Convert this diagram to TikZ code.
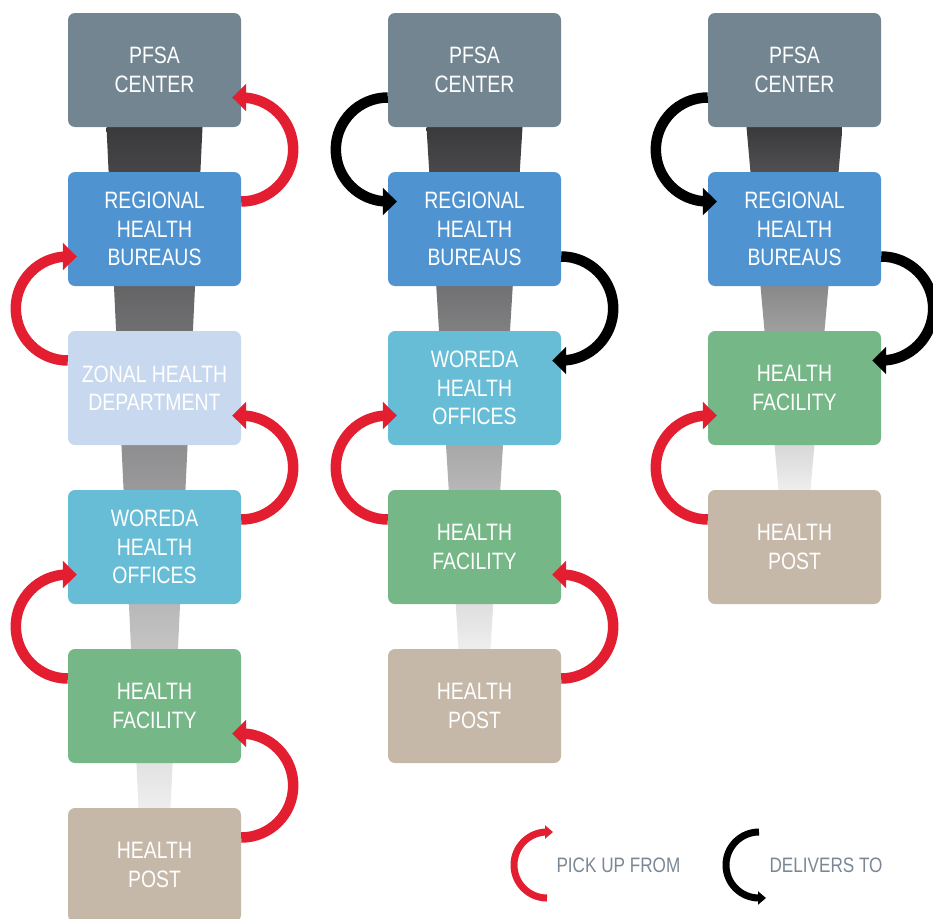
\documentclass[tikz,border=0pt]{standalone}
\usepackage{fontspec}
\setmainfont{Liberation Sans}[FakeStretch=0.82]
\usepackage{tikz}
\usetikzlibrary{arrows.meta,calc,backgrounds}
\usepackage{xcolor}
\definecolor{pfsa}{HTML}{748592}
\definecolor{rhb}{HTML}{4F93D0}
\definecolor{zonal}{HTML}{C8D8EE}
\definecolor{woreda}{HTML}{68BDD6}
\definecolor{hf}{HTML}{76B788}
\definecolor{hp}{HTML}{C5B8A9}
\definecolor{pickred}{HTML}{E31E30}
\definecolor{legendgray}{HTML}{7A8794}
\definecolor{trapdark}{HTML}{3A3A3C}
\definecolor{traplight}{HTML}{EEEEEF}

\begin{document}
\begin{tikzpicture}[x=1pt, y=1pt,
  level/.style={fill=#1, rounded corners=7pt, minimum width=173pt,
                minimum height=114pt, inner sep=0pt, text=white, align=center,
                font=\fontsize{23.7}{28.5}\selectfont},
  pickup/.style={draw=pickred, line width=10.5pt,
                 -{Triangle[length=14pt,width=27pt]}},
  delivers/.style={draw=black, line width=10.5pt,
                   -{Triangle[length=14pt,width=27pt]}},
  keyarc/.style={draw=#1, line width=7pt,
                 -{Triangle[length=8pt,width=13pt]}},
  keytext/.style={text=legendgray, anchor=west,
                  font=\fontsize{20.9}{24}\selectfont},
  trunk/.style={top color=trapdark, bottom color=traplight}
]
\useasboundingbox (0,0) rectangle (933,-918);

%% Column 1: six levels
\foreach \i/\col/\txt in {1/pfsa/{PFSA\\CENTER}, 2/rhb/{REGIONAL\\HEALTH\\BUREAUS},
    3/zonal/{ZONAL HEALTH\\DEPARTMENT}, 4/woreda/{WOREDA\\HEALTH\\OFFICES},
    5/hf/{HEALTH\\FACILITY}, 6/hp/{HEALTH\\POST}}{
  \node[level=\col] (a\i) at (154.5,{-70-159*(\i-1)}) {\txt};
}

%% Column 2: five levels
\foreach \i/\col/\txt in {1/pfsa/{PFSA\\CENTER}, 2/rhb/{REGIONAL\\HEALTH\\BUREAUS},
    3/woreda/{WOREDA\\HEALTH\\OFFICES}, 4/hf/{HEALTH\\FACILITY}, 5/hp/{HEALTH\\POST}}{
  \node[level=\col] (b\i) at (474.5,{-70-159*(\i-1)}) {\txt};
}

%% Column 3: four levels
\foreach \i/\col/\txt in {1/pfsa/{PFSA\\CENTER}, 2/rhb/{REGIONAL\\HEALTH\\BUREAUS},
    3/hf/{HEALTH\\FACILITY}, 4/hp/{HEALTH\\POST}}{
  \node[level=\col] (c\i) at (794.5,{-70-159*(\i-1)}) {\txt};
}

%% Tapering trunks behind the boxes
\begin{scope}[on background layer]
  \foreach \top/\bot in {a1/a6, b1/b5, c1/c4}{
    \shade[trunk] ($(\top.south)+(-48,0)$) -- ($(\top.south)+(48,0)$)
      -- ($(\bot.north)+(16,0)$) -- ($(\bot.north)+(-16,0)$) -- cycle;
  }
\end{scope}

%% Pick up from (red)
\foreach \u/\l in {a1/a2, a3/a4, a5/a6, b4/b5}{
  \draw[pickup] ([yshift=27.5pt]\l.east) arc[start angle=-90, end angle=90, radius=52pt]
    -- ++(-9,0);
}
\foreach \u/\l in {a2/a3, a4/a5, b3/b4, c3/c4}{
  \draw[pickup] ([yshift=27.5pt]\l.west) arc[start angle=270, end angle=90, radius=52pt]
    -- ++(9,0);
}

%% Delivers to (black)
\foreach \u/\l in {b1/b2, c1/c2}{
  \draw[delivers] ([yshift=-27.5pt]\u.west) arc[start angle=90, end angle=270, radius=52pt]
    -- ++(9,0);
}
\foreach \u/\l in {b2/b3, c2/c3}{
  \draw[delivers] ([yshift=-27.5pt]\u.east) arc[start angle=90, end angle=-90, radius=52pt]
    -- ++(-9,0);
}

%% Legend
\coordinate (pk) at (547,-898);
\draw[keyarc=pickred] (pk) arc[start angle=270, end angle=90, radius=33pt] -- ++(6,0);
\node[keytext] (pktxt) at (553,-865) {PICK UP FROM};
\coordinate (dl) at (759,-832);
\draw[keyarc=black] (dl) arc[start angle=90, end angle=270, radius=33pt] -- ++(7,0);
\node[keytext] (dltxt) at (766,-865) {DELIVERS TO};

\end{tikzpicture}
\end{document}
